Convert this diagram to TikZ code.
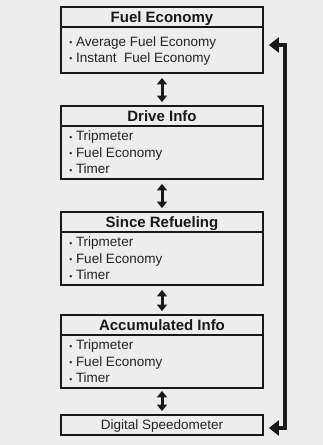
\documentclass[tikz,border=0pt]{standalone}
\usepackage{fontspec}
\setmainfont{Liberation Sans}
\usetikzlibrary{arrows.meta}
\definecolor{bgc}{RGB}{237,237,237}
\definecolor{txt}{RGB}{35,35,35}
\newcommand{\bul}{\makebox[6.7pt][l]{\raisebox{0.3pt}{\fontsize{8.5}{8.5}\selectfont •}}}
\begin{document}
\begin{tikzpicture}[x=1pt,y=-1pt,
  boxline/.style={draw=black!90, line width=1.8pt},
  titlebox/.style={boxline, minimum width=202pt, minimum height=20pt, inner sep=0pt,
    text height=10.8pt, text depth=0pt,
    font=\fontsize{15}{18}\selectfont\bfseries, text=black!90},
  bodybox/.style={boxline, minimum width=202pt, inner sep=0pt},
  item/.style={anchor=base west, inner sep=0pt, font=\fontsize{13.5}{16.5}\selectfont, text=txt},
  sdbox/.style={boxline, minimum width=202pt, minimum height=20pt, inner sep=0pt,
    text height=9.7pt, text depth=0pt,
    font=\fontsize{13.5}{16}\selectfont, text=txt},
  dblarrow/.style={line width=3pt, black!90, {Triangle[width=10pt,length=6.5pt]}-{Triangle[width=10pt,length=6.5pt]},
    shorten <=4pt, shorten >=3pt},
  railarrow/.style={line width=4.8pt, black!90, miter limit=10,
    {Triangle[width=15pt,length=10pt]}-{Triangle[width=15pt,length=10pt]}}
]
\fill[bgc] (0,0) rectangle (323,445);
\useasboundingbox (0,0) rectangle (323,445);

% Fuel Economy
\node[titlebox] (fet) at (162,17) {Fuel Economy};
\node[bodybox, minimum height=46pt] (feb) at (162,50) {};
\node[item] (fe1) at ([xshift=9pt,yshift=-20pt]feb.north west) {\bul Average Fuel Economy};
\node[item] (fe2) at ([xshift=9pt,yshift=-36pt]feb.north west) {\bul Instant\ \ Fuel Economy};

% Drive Info
\node[titlebox] (drt) at (162,116) {Drive Info};
\node[bodybox, minimum height=53pt] (drb) at (162,152.5) {};
\node[item] (dr1) at ([xshift=9pt,yshift=-15.5pt]drb.north west) {\bul Tripmeter};
\node[item] (dr2) at ([xshift=9pt,yshift=-32pt]drb.north west) {\bul Fuel Economy};
\node[item] (dr3) at ([xshift=9pt,yshift=-48.5pt]drb.north west) {\bul Timer};

% Since Refueling
\node[titlebox] (srt) at (162,222) {Since Refueling};
\node[bodybox, minimum height=53pt] (srb) at (162,258.5) {};
\node[item] (sr1) at ([xshift=9pt,yshift=-15.5pt]srb.north west) {\bul Tripmeter};
\node[item] (sr2) at ([xshift=9pt,yshift=-32pt]srb.north west) {\bul Fuel Economy};
\node[item] (sr3) at ([xshift=9pt,yshift=-48.5pt]srb.north west) {\bul Timer};

% Accumulated Info
\node[titlebox] (act) at (162,325) {Accumulated Info};
\node[bodybox, minimum height=53pt] (acb) at (162,361.5) {};
\node[item] (ac1) at ([xshift=9pt,yshift=-15.5pt]acb.north west) {\bul Tripmeter};
\node[item] (ac2) at ([xshift=9pt,yshift=-32pt]acb.north west) {\bul Fuel Economy};
\node[item] (ac3) at ([xshift=9pt,yshift=-48.5pt]acb.north west) {\bul Timer};

% Digital Speedometer
\node[sdbox] (ds) at (162,425) {Digital Speedometer};

% vertical double arrows
\draw[dblarrow] (feb.south) -- (drt.north);
\draw[dblarrow] (drb.south) -- (srt.north);
\draw[dblarrow] (srb.south) -- (act.north);
\draw[dblarrow, shorten <=2pt] (acb.south) -- (ds.north);

% right return rail
\coordinate (railtop) at (285,45);
\coordinate (railbot) at (285,428);
\draw[railarrow] ([xshift=5pt]feb.east |- railtop) -- (railtop) -- (railbot) -- ([xshift=5pt]ds.east |- railbot);
\end{tikzpicture}
\end{document}
